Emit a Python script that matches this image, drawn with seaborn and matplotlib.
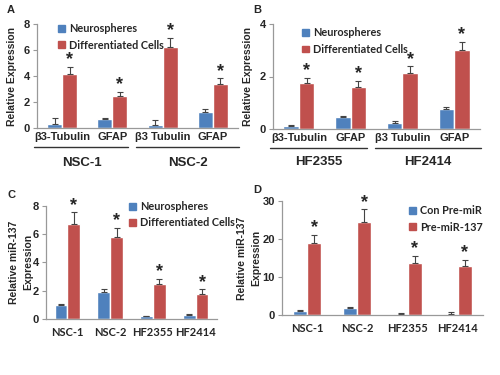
import matplotlib
matplotlib.use('Agg')
import matplotlib.pyplot as plt
import matplotlib.transforms as mtransforms
from matplotlib.patches import Patch
import numpy as np
import pandas as pd
import seaborn as sns

sns.set_style('white')
plt.rcParams['font.family'] = ['Liberation Sans', 'DejaVu Sans']
plt.rcParams['font.weight'] = 'bold'

BLUE = '#4f81bd'
RED = '#c0504d'

# --- data ---
# A
a_ticks = ['β3-Tubulin', 'GFAP', 'β3 Tubulin', 'GFAP']
a_groups = ['NSC-1', 'NSC-2']
a_neuro = [0.33, 0.72, 0.22, 1.28]
a_neuro_err = [0.42, 0.08, 0.4, 0.18]
a_diff = [4.2, 2.5, 6.2, 3.38]
a_diff_err = [0.52, 0.27, 0.72, 0.44]

# B
b_ticks = ['β3-Tubulin', 'GFAP', 'β3 Tubulin', 'GFAP']
b_groups = ['HF2355', 'HF2414']
b_neuro = [0.13, 0.44, 0.24, 0.76]
b_neuro_err = [0.04, 0.06, 0.05, 0.08]
b_diff = [1.74, 1.61, 2.12, 3.0]
b_diff_err = [0.2, 0.22, 0.27, 0.33]

# C
c_ticks = ['NSC-1', 'NSC-2', 'HF2355', 'HF2414']
c_neuro = [1.0, 1.9, 0.19, 0.27]
c_neuro_err = [0.05, 0.22, 0.05, 0.07]
c_diff = [6.7, 5.8, 2.5, 1.8]
c_diff_err = [0.82, 0.63, 0.32, 0.3]

# D
d_ticks = ['NSC-1', 'NSC-2', 'HF2355', 'HF2414']
d_con = [1.15, 1.9, 0.18, 0.26]
d_con_err = [0.18, 0.2, 0.3, 0.5]
d_pre = [18.9, 24.3, 13.6, 12.9]
d_pre_err = [2.1, 3.4, 1.9, 1.5]


def panel(ax, ticks, s1, s2, v1, e1, v2, e2, ylim, yticks, width):
    cats = [f'{i}_{t}' for i, t in enumerate(ticks)]
    df = pd.DataFrame({
        'cat': cats * 2,
        'val': v1 + v2,
        'series': [s1] * 4 + [s2] * 4,
    })
    sns.barplot(data=df, x='cat', y='val', hue='series', palette=[BLUE, RED],
                width=width, errorbar=None, saturation=1, ax=ax, legend=False)
    for cont, err, star in zip(ax.containers, [e1, e2], [False, True]):
        xs = np.array([b.get_x() + b.get_width() / 2 for b in cont])
        hs = np.array([b.get_height() for b in cont])
        ax.errorbar(xs, hs, yerr=[np.zeros(4), err], fmt='none', ecolor='#444444',
                    elinewidth=0.8, capsize=2, capthick=0.8)
        if star:
            for x, h, e in zip(xs, hs, err):
                ax.annotate('*', (x, h + e), xytext=(0, -1), textcoords='offset points',
                            ha='center', va='bottom', fontsize=13, fontweight='bold')
    ax.set_ylim(*ylim)
    ax.set_yticks(yticks)
    ax.set_xlim(-0.5, 3.5)
    ax.set_xticks(range(4))
    ax.set_xticklabels(ticks, fontsize=8, fontweight='bold')
    ax.set_xlabel('')
    ax.set_ylabel('')
    ax.tick_params(axis='y', labelsize=8, length=3, width=0.8, color='#999999',
                   direction='out', left=True, pad=2)
    ax.tick_params(axis='x', length=0, pad=3)
    sns.despine(ax=ax)
    for s in ['left', 'bottom']:
        ax.spines[s].set_color('#999999')
        ax.spines[s].set_linewidth(0.9)


def legend(ax, s1, s2, anchor):
    handles = [Patch(color=BLUE), Patch(color=RED)]
    ax.legend(handles, [s1, s2], loc='upper left', bbox_to_anchor=anchor,
              frameon=False, handlelength=0.6, handleheight=0.6, handletextpad=0.4,
              labelspacing=0.5, prop={'family': ['Lato', 'DejaVu Sans'],
                                      'weight': 'bold', 'size': 7.8})


def groups(ax, names, ylin, ytxt):
    trans = mtransforms.blended_transform_factory(ax.transData, ax.transAxes)
    spans = [(-0.55, 1.32), (1.48, 3.52)]
    for (x0, x1), name in zip(spans, names):
        ax.plot([x0, x1], [ylin, ylin], color='#333333', lw=1, transform=trans, clip_on=False)
        ax.text((x0 + x1) / 2, ytxt, name, transform=trans, ha='center', va='center',
                fontsize=9.5, fontweight='bold')


fig = plt.figure(figsize=(5, 3.75), dpi=100)

axA = fig.add_axes([0.074, 0.658, 0.402, 0.278])
panel(axA, a_ticks, 'Neurospheres', 'Differentiated Cells', a_neuro, a_neuro_err,
      a_diff, a_diff_err, (0, 8), [0, 2, 4, 6, 8], 0.6)
legend(axA, 'Neurospheres', 'Differentiated Cells', (0.058, 1.1))
groups(axA, a_groups, -0.18, -0.33)
axA.set_ylabel('Relative Expression', fontsize=7.5, fontweight='bold', labelpad=5)

axB = fig.add_axes([0.546, 0.656, 0.414, 0.28])
panel(axB, b_ticks, 'Neurospheres', 'Differentiated Cells', b_neuro, b_neuro_err,
      b_diff, b_diff_err, (0, 4), [0, 2, 4], 0.6)
legend(axB, 'Neurospheres', 'Differentiated Cells', (0.095, 1.06))
groups(axB, b_groups, -0.18, -0.31)
axB.set_ylabel('Relative Expression', fontsize=7.5, fontweight='bold', labelpad=5)

axC = fig.add_axes([0.092, 0.149, 0.342, 0.303])
panel(axC, c_ticks, 'Neurospheres', 'Differentiated Cells', c_neuro, c_neuro_err,
      c_diff, c_diff_err, (0, 8), [0, 2, 4, 6, 8], 0.6)
legend(axC, 'Neurospheres', 'Differentiated Cells', (0.43, 1.125))
axC.set_ylabel('Relative miR-137\nExpression', fontsize=7.5, fontweight='bold',
               labelpad=-0.5, linespacing=1.5)

axD = fig.add_axes([0.564, 0.16, 0.402, 0.305])
panel(axD, d_ticks, 'Con Pre-miR', 'Pre-miR-137', d_con, d_con_err,
      d_pre, d_pre_err, (0, 30), [0, 10, 20, 30], 0.56)
legend(axD, 'Con Pre-miR', 'Pre-miR-137', (0.585, 1.045))
axD.set_ylabel('Relative miR-137\nExpression', fontsize=7.5, fontweight='bold',
               labelpad=1, linespacing=1.5)

for ax in [axC, axD]:
    for lab in ax.get_xticklabels():
        lab.set_family(['Lato', 'DejaVu Sans'])
        lab.set_fontsize(8)
    ax.tick_params(axis='x', pad=6)

for letter, x, y in [('A', 0.014, 0.973), ('B', 0.506, 0.973), ('C', 0.014, 0.48), ('D', 0.506, 0.493)]:
    fig.text(x, y, letter, fontsize=8, fontweight='bold', ha='left', va='center')

fig.savefig('out.png', dpi=100)
